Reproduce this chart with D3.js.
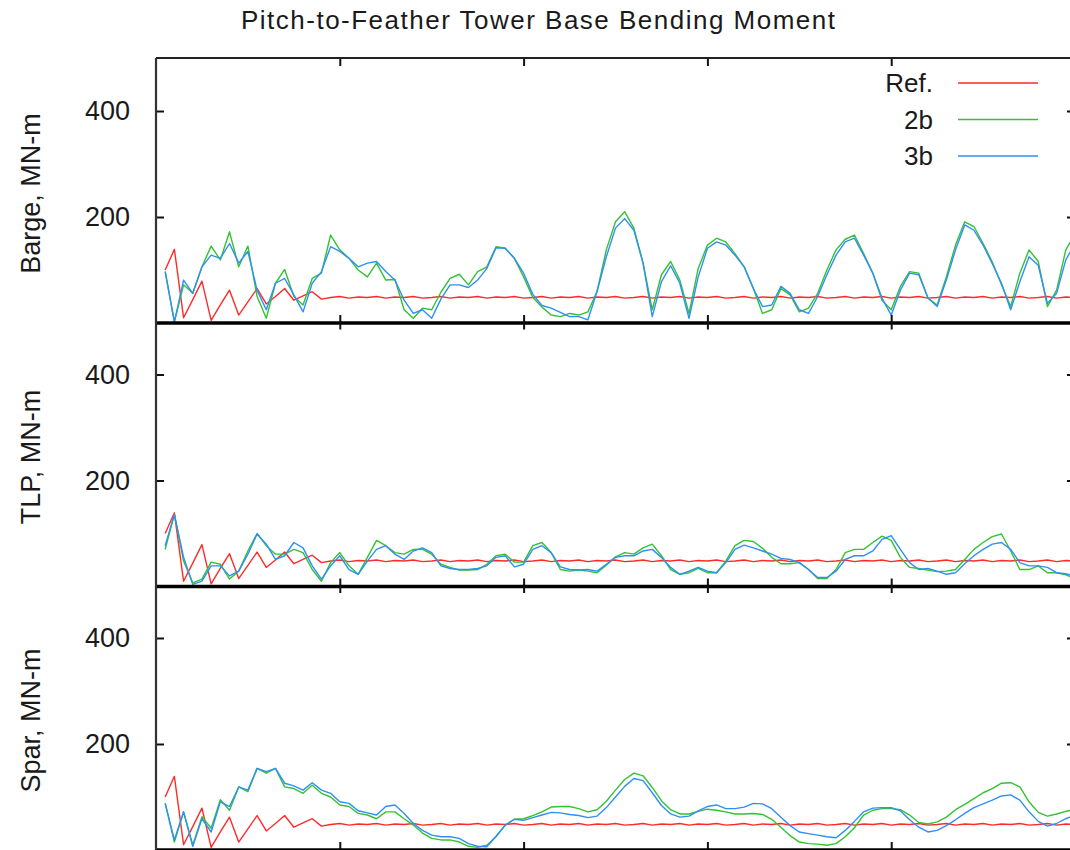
<!DOCTYPE html>
<html>
<head>
<meta charset="utf-8">
<script src="https://cdn.jsdelivr.net/npm/d3@7"></script>
<style>
  html, body { margin: 0; padding: 0; background: #fff; }
  svg { display: block; }
  text { font-family: "Liberation Sans", Arial, sans-serif; fill: #1a1a1a; }
</style>
</head>
<body>
<svg id="chart" width="1070" height="850"></svg>
<script>
// Sampling of every series: first sample time and step (s)
const sampleStart = 0.5;
const sampleStep = 0.5;

// Reference (rigid) response, shared by all three platforms
const refValues = [
  100,139,10,44,79,5,34,62,15,40,
  65,36,50,65,43,51,59,45,48,50,
  47,49,48,50,47,49,48,50,47,48,
  50,47,49,48,50,47,49,48,50,47,
  48,50,47,49,48,50,47,49,48,50,
  47,48,50,47,49,48,50,47,49,48,
  50,47,48,50,47,49,48,50,47,49,
  48,50,47,48,50,47,49,48,50,47,
  49,48,50,47,48,50,47,49,48,50,
  47,49,48,50,47,48,50,47,49,48
];

const bargeTwoB = [
  97,2,72,56,106,145,119,172,106,145,
  50,9,75,101,50,34,84,94,166,138,
  122,100,87,113,81,82,25,9,28,25,
  58,84,92,72,97,106,144,141,122,87,
  48,30,15,12,18,15,21,60,138,191,
  210,179,113,25,91,116,81,18,103,147,
  160,153,131,106,65,18,25,65,53,21,
  28,56,100,138,158,166,131,94,43,25,
  69,97,94,47,34,87,147,191,182,150,
  115,72,31,94,138,116,31,62,138,168
];
const bargeThreeB = [
  97,2,81,56,106,128,122,150,113,135,
  62,25,75,84,53,21,75,97,144,135,
  122,106,113,116,97,81,43,18,25,9,
  45,72,72,67,81,103,142,141,122,94,
  54,33,28,20,12,12,6,60,125,179,
  197,175,113,12,78,108,75,9,87,141,
  153,147,128,106,65,31,34,69,56,25,
  18,50,91,128,153,160,128,94,47,15,
  62,94,91,47,31,81,138,185,175,147,
  112,75,25,78,125,109,37,56,119,150
];

const tlpTwoB = [
  70,136,48,7,14,46,42,14,29,67,
  100,77,61,61,70,64,32,10,45,64,
  39,23,55,87,77,64,61,70,70,61,
  42,36,31,31,32,42,58,61,46,46,
  77,83,64,32,29,31,29,26,40,56,
  64,61,73,80,58,32,23,26,34,26,
  26,48,77,87,85,72,55,43,43,45,
  32,15,15,32,64,70,70,83,95,87,
  55,36,34,31,28,29,32,51,70,83,
  94,99,67,32,32,39,26,26,22,15
];
const tlpThreeB = [
  77,136,55,4,10,39,39,20,29,61,
  99,80,51,58,83,73,39,14,39,58,
  32,23,48,70,77,61,51,67,73,64,
  39,34,32,32,34,39,55,58,37,42,
  70,77,64,37,32,31,32,29,42,55,
  58,58,67,70,55,36,23,29,36,29,
  26,45,70,78,73,67,61,53,51,45,
  32,17,17,29,51,58,58,67,89,96,
  70,45,32,34,29,23,26,43,58,70,
  80,83,70,45,39,39,36,26,24,20
];

const sparTwoB = [
  88,15,72,9,63,41,95,75,119,110,
  154,145,154,119,116,107,122,107,100,85,
  82,69,66,59,72,72,59,47,32,22,
  19,19,15,7,5,9,25,47,58,59,
  65,72,81,82,82,78,72,76,92,113,
  133,145,140,118,93,76,68,68,73,77,
  75,72,68,68,69,67,58,43,27,15,
  12,11,9,12,25,42,66,75,78,78,
  76,66,52,49,53,62,76,86,97,108,
  116,126,127,119,91,71,64,68,73,76
];
const sparThreeB = [
  88,19,72,7,59,34,91,82,119,113,
  154,148,154,126,121,113,127,113,107,91,
  88,74,70,66,82,85,69,50,37,28,
  25,25,22,12,7,6,26,47,58,56,
  61,66,71,70,67,65,61,64,80,100,
  120,135,131,108,84,68,62,64,74,82,
  85,78,78,81,88,87,78,62,46,34,
  31,28,25,23,37,54,72,79,80,80,
  74,57,43,34,37,46,57,69,80,87,
  94,102,104,94,72,54,45,50,59,66
];

const panelLabels = ["Barge, MN-m", "TLP, MN-m", "Spar, MN-m"];
const seriesNames = ["Ref.", "2b", "3b"];
const seriesColors = ["#ff2a2a", "#33c233", "#2f8ff5"];
const yTicks = [200, 400];
const xTicks = [10, 20, 30, 40];
const titleText = "Pitch-to-Feather Tower Base Bending Moment";

const panels = [
  { label: panelLabels[0], series: [refValues, bargeTwoB, bargeThreeB] },
  { label: panelLabels[1], series: [refValues, tlpTwoB, tlpThreeB] },
  { label: panelLabels[2], series: [refValues, sparTwoB, sparThreeB] }
];

const svg = d3.select("#chart");
const left = 156, right = 1075;
const firstZero = 323, panelPitch = 263.5, panelHeight = 265;

const x = d3.scaleLinear().domain([0, 50]).range([left, right]);

// title, spread across its full printed width
svg.append("text")
  .attr("x", 241).attr("y", 29)
  .attr("font-size", 26)
  .attr("textLength", 594)
  .attr("lengthAdjust", "spacing")
  .text(titleText);

panels.forEach((p, i) => {
  const zero = firstZero + panelPitch * i;
  const top = zero - panelHeight;
  const y = d3.scaleLinear().domain([0, 500]).range([zero, top]);
  const g = svg.append("g");

  // data lines
  const line = d3.line()
    .x((d, k) => x(sampleStart + k * sampleStep))
    .y(d => y(d));
  p.series.forEach((vals, s) => {
    g.append("path")
      .datum(vals)
      .attr("fill", "none")
      .attr("stroke", seriesColors[s])
      .attr("stroke-width", 1.4)
      .attr("stroke-linejoin", "round")
      .attr("d", line);
  });

  // y axis: inward ticks, labels to the left
  const ya = g.append("g")
    .attr("transform", `translate(${left},0)`)
    .call(d3.axisLeft(y).tickValues(yTicks).tickSize(-8).tickPadding(26));
  ya.select(".domain").remove();
  ya.selectAll(".tick line").attr("stroke", "#111").attr("stroke-width", 2);
  ya.selectAll(".tick text")
    .attr("font-size", 27)
    .attr("font-family", "Liberation Sans, Arial, sans-serif")
    .attr("fill", "#1a1a1a");

  // mirrored y ticks on the right border
  const yr = g.append("g")
    .attr("transform", `translate(${right},0)`)
    .call(d3.axisRight(y).tickValues(yTicks).tickSize(-8).tickFormat(""));
  yr.select(".domain").remove();
  yr.selectAll(".tick line").attr("stroke", "#111").attr("stroke-width", 2);

  // x ticks on bottom and top, pointing inward
  const xb = g.append("g")
    .attr("transform", `translate(0,${zero})`)
    .call(d3.axisBottom(x).tickValues(xTicks).tickSize(-8).tickFormat(""));
  xb.select(".domain").remove();
  xb.selectAll(".tick line").attr("stroke", "#111").attr("stroke-width", 2);

  const xt = g.append("g")
    .attr("transform", `translate(0,${top})`)
    .call(d3.axisTop(x).tickValues(xTicks).tickSize(-8).tickFormat(""));
  xt.select(".domain").remove();
  xt.selectAll(".tick line").attr("stroke", "#111").attr("stroke-width", 2);

  // zero line (heavy)
  g.append("line")
    .attr("x1", left).attr("x2", right)
    .attr("y1", y(0)).attr("y2", y(0))
    .attr("stroke", "#000").attr("stroke-width", 3.5);

  // panel label
  g.append("text")
    .attr("transform", `translate(40,${(zero + top) / 2 + 3}) rotate(-90)`)
    .attr("text-anchor", "middle")
    .attr("font-size", 27)
    .text(p.label);

  // legend in the first panel
  if (i === 0) {
    seriesNames.forEach((name, s) => {
      const ly = 83 + s * 36.5;
      g.append("text")
        .attr("x", 933).attr("y", ly + 9)
        .attr("text-anchor", "end")
        .attr("font-size", 26)
        .text(name);
      g.append("line")
        .attr("x1", 958).attr("x2", 1038)
        .attr("y1", ly).attr("y2", ly)
        .attr("stroke", seriesColors[s]).attr("stroke-width", 1.6);
    });
  }
});

// outer frame: left and top borders
svg.append("line")
  .attr("x1", left).attr("x2", left).attr("y1", firstZero - panelHeight).attr("y2", 852)
  .attr("stroke", "#333").attr("stroke-width", 2.2);
svg.append("line")
  .attr("x1", left).attr("x2", right).attr("y1", firstZero - panelHeight).attr("y2", firstZero - panelHeight)
  .attr("stroke", "#222").attr("stroke-width", 1.8);
</script>
</body>
</html>
